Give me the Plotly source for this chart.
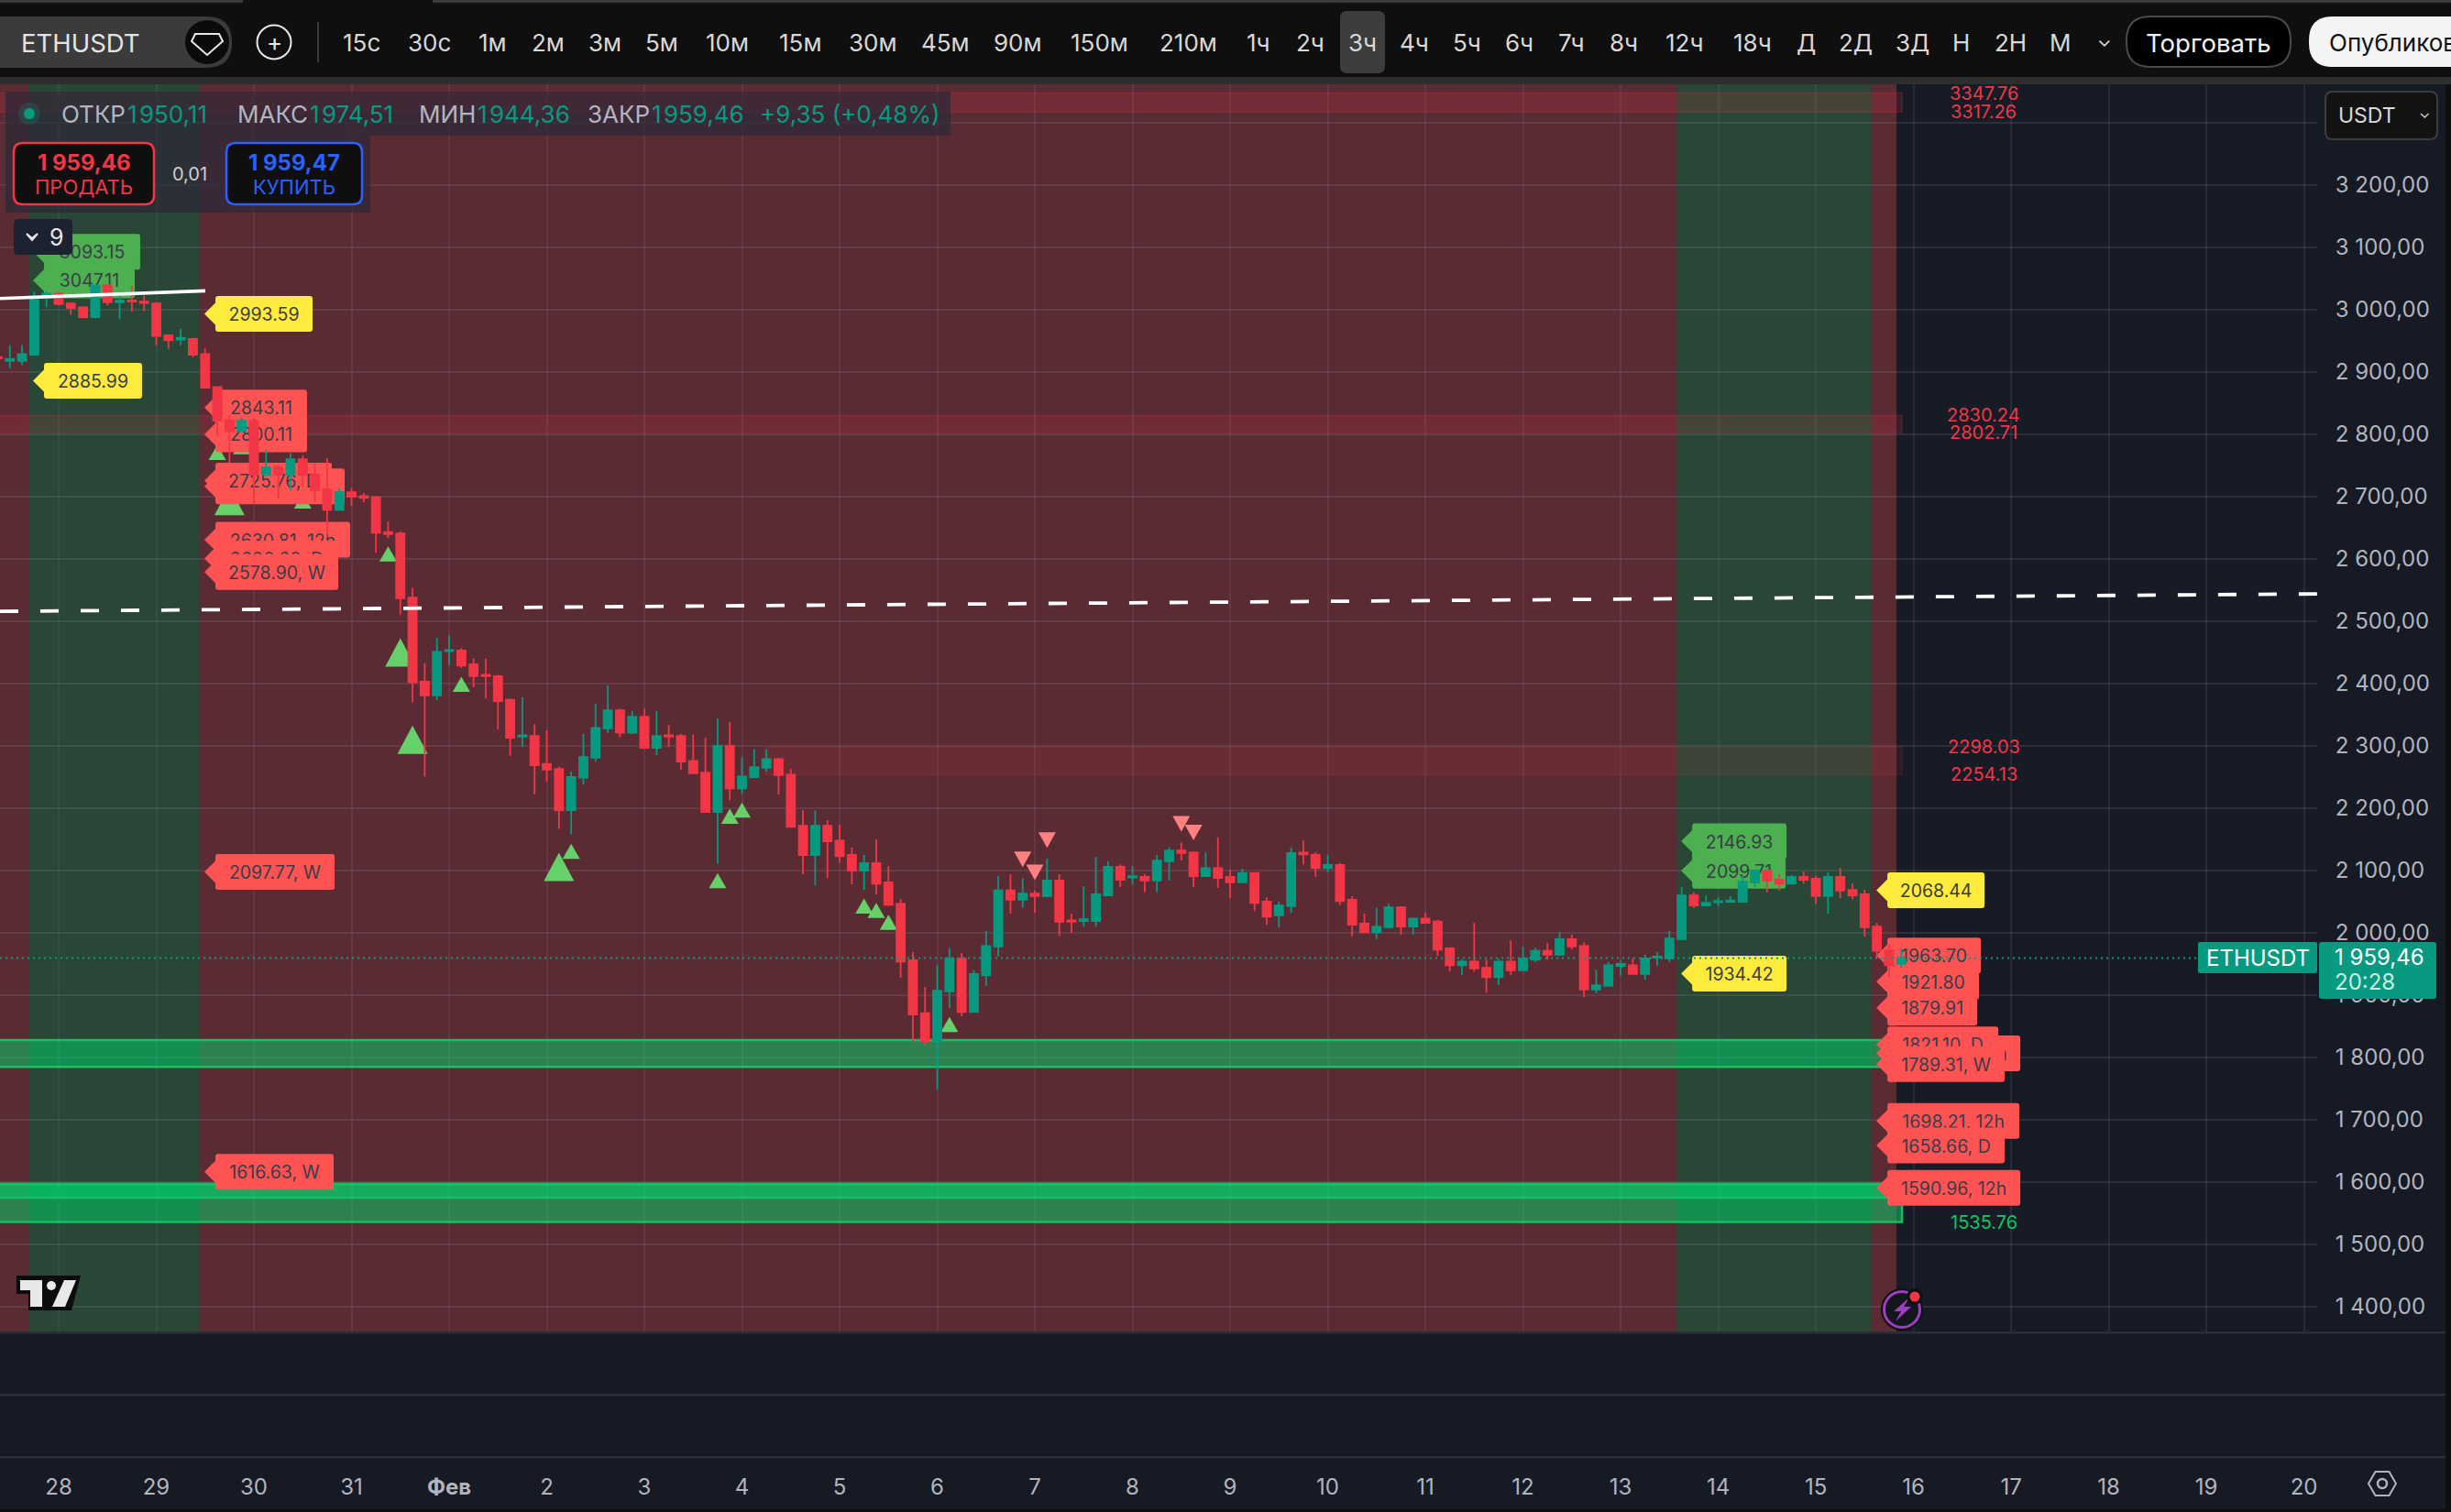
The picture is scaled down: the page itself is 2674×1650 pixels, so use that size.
import pandas as pd
import plotly.graph_objects as go

W, H = 2674, 1650

# ---------- candle data (3h bars, ETHUSDT) ----------
times = pd.date_range("2026-01-27 09:00", periods=157, freq="3h")
opens = [2924,2918,2918,2928,3019,3026,3010,3004,2988,3039,3012,3015,3013,3010,2959,2952,2953,2929,
2876,2823,2805,2822,2735,2747,2735,2760,2736,2712,2679,2707,2701,2699,2643,2641,2538,2403,2381,2452,2453,2431,2414,2412,2374,2315,2316,2271,2263,2197,2249,2281,2328,2357,2321,
2347,2297,2317,2316,2276,2257,2194,2300,2232,2250,2265,2279,2254,2172,2125,2172,2148,2125,2100,2112,2081,2047,1956,1871,1826,1906,1959,1873,1932,1978,2068,2053,2063,2059,2084,2020,2019,2019,2060,2106,2089,2090,2084,2115,2132,2129,2091,2104,2090,2081,2096,2050,2028,2043,2129,2125,2104,2109,2053,2015,
2001,2009,2041,2010,2023,2018,1975,1948,1954,1944,1929,1954,1940,1957,1971,1965,1990,1979,1909,1915,1947,1948,1934,1960,1959,1990,2060,2044,2049,2050,2050,2081,2100,2085,2079,2090,2087,2059,2090,2069,2062,2010,1972,1950.11]
highs = [2935,2943,2943,3029,3029,3029,3012,3004,3041,3041,3027,3038,3022,3012,2960,2969,2955,2938,
2877,2830,2827,2827,2775,2751,2770,2766,2753,2762,2714,2714,2706,2701,2660,2644,2554,2433,2473,2477,2457,2440,2440,2414,2376,2378,2335,2325,2267,2259,2319,2368,2397,2360,2356,
2360,2356,2334,2319,2318,2313,2344,2338,2282,2295,2294,2281,2263,2197,2196,2181,2173,2137,2125,2150,2107,2054,1969,1913,1948,1976,1968,1940,2003,2091,2094,2088,2068,2119,2094,2031,2075,2122,2115,2110,2107,2094,2125,2138,2145,2131,2129,2153,2101,2103,2096,2057,2050,2137,2148,2129,2125,2112,2059,2031,
2040,2047,2043,2023,2032,2021,1977,1957,2016,1957,1959,1988,1978,1976,1984,2001,1997,1985,1941,1953,1955,1959,1965,1969,2003,2073,2065,2060,2057,2059,2091,2102,2102,2094,2093,2098,2091,2097,2104,2079,2069,2016,1982,1974.51]
lows = [2915,2906,2911,2928,3004,3007,2992,2986,2986,3007,2985,2997,2998,2943,2937,2943,2924,2875,
2797,2754,2804,2688,2734,2697,2710,2714,2692,2636,2678,2685,2691,2610,2634,2511,2370,2251,2374,2429,2425,2394,2376,2327,2284,2298,2222,2243,2167,2158,2238,2275,2321,2314,2319,
2295,2285,2298,2262,2256,2194,2111,2213,2223,2250,2259,2222,2169,2094,2076,2088,2113,2078,2069,2062,2043,1928,1825,1819,1748,1879,1866,1872,1915,1962,2031,2040,2032,2057,1995,2000,2010,2010,2059,2073,2078,2065,2065,2084,2116,2073,2091,2072,2056,2081,2035,2013,2009,2032,2110,2090,2097,2045,1995,2001,
1990,2007,1997,1997,2016,1963,1938,1932,1938,1904,1916,1932,1940,1953,1957,1963,1973,1897,1903,1915,1931,1934,1925,1947,1953,1988,2040,2044,2043,2048,2048,2073,2065,2068,2079,2079,2046,2031,2056,2054,1994,1960,1929,1944.36]
closes = [2922,2921,2929,3021,3026,3009,3003,2988,3039,3012,3015,3013,3011,2958,2951,2955,2928,2875,
2822,2805,2822,2735,2747,2735,2760,2735,2710,2679,2707,2700,2698,2642,2640,2537,2402,2381,2451,2454,2429,2412,2412,2372,2313,2317,2269,2262,2197,2250,2282,2329,2357,2321,2347,
2297,2316,2315,2275,2256,2194,2300,2232,2251,2266,2279,2253,2170,2125,2172,2147,2123,2100,2112,2079,2045,1954,1869,1826,1907,1959,1873,1934,1979,2068,2053,2063,2059,2084,2018,2018,2022,2062,2106,2085,2091,2084,2116,2132,2128,2091,2104,2088,2081,2096,2048,2026,2044,2128,2126,2104,2109,2051,2013,2001,
2010,2041,2010,2023,2016,1973,1948,1954,1943,1929,1954,1940,1959,1971,1965,1990,1978,1909,1916,1948,1950,1934,1959,1962,1991,2060,2044,2048,2051,2052,2082,2100,2084,2079,2090,2085,2059,2090,2068,2060,2009,1971,1948,1959.46]

# ---------- signals ----------
up_times_idx = [18,20,19,25,32,33,34,38,46,47,59,60,61,71,72,73,78]
up_prices    = [2771,2780,2693,2693,2608,2450,2310,2399,2106,2131,2084,2187,2197,2043,2036,2017,1853]
up_big       = [0,0,1,0,0,1,1,0,1,0,0,0,0,0,0,0,0]
down_times_idx = [84,85,86,97,98]
down_prices    = [2118,2097,2149,2175,2161]

# ---------- price tag labels ----------
label_texts  = ["3093.15","3047.11","2885.99","2993.59","2843.11","2800.11","2716.40, 12h","2725.76, D",
                "2630.81, 12h","2600.60, D","2578.90, W","2097.77, W","1616.63, W",
                "2146.93","2099.71","1934.42",
                "2068.44","1963.70","1921.80","1879.91","1806.44, 12h","1821.10, D","1789.31, W",
                "1698.21, 12h","1658.66, D","1590.96, 12h"]
label_prices = [3093.15,3047.11,2885.99,2993.59,2843.11,2800.11,2716.40,2725.76,
                2630.81,2600.60,2578.90,2097.77,1616.63,
                2146.93,2099.71,1934.42,
                2068.44,1963.70,1921.80,1879.91,1806.44,1821.10,1789.31,
                1698.21,1658.66,1590.96]
label_times  = ["2026-01-27 17:41"]*3 + ["2026-01-29 11:50"]*10 + ["2026-02-13 14:53"]*3 + ["2026-02-15 14:53"]*10
label_kinds  = ["g","g","y","y","r","r","r","r","r","r","r","r","r","g","g","y","y","r","r","r","r","r","r","r","r","r"]
label_widths = [105,99,107,106,100,100,141,127,147,134,134,130,129,103,102,103,106,102,100,98,145,121,128,144,128,145]

zone_tops    = [3347.76,2830.24,2298.03]
zone_bottoms = [3317.26,2802.71,2254.13]
zone_starts  = ["2026-01-27 00:00","2026-01-27 00:00","2026-02-04 05:44"]
zone_alphas  = [0.15,0.14,0.09]
side_texts   = ["3347.76","3317.26","2830.24","2802.71","2298.03","2254.13"]
side_prices  = [3347.76,3317.26,2830.24,2802.71,2298.03,2254.13]

green_tops    = [1828,1597,1597]
green_bottoms = [1785,1536,1575]

day_ticks  = list(pd.date_range("2026-01-28", "2026-02-20", freq="D"))
day_labels = ["28","29","30","31","<b>Фев</b>"] + [str(d) for d in range(2,21)]
price_ticks  = list(range(1400,3400,100))
price_labels = [f"{p//1000} {p%1000:03d},00" if p < 3300 else "" for p in price_ticks]

last_price = 1959.46
trend_times  = ["2026-01-27 09:34","2026-01-29 12:03"]
trend_prices = [3018,3030.4]
dash_times   = ["2026-01-27 09:34","2026-02-20 03:15"]
dash_prices  = [2516,2544]

X0, X1 = "2026-01-27 09:34:42", "2026-02-20 03:15:00"
Y0, Y1 = 1358.8, 3361.8
RED, GREEN = "#f23645", "#089981"
FONT = "Inter"

shapes, ann = [], []

def px(x): return x / W
def py(y): return 1 - y / H

def rpath(x0, y0, x1, y1, r, fx=lambda v: v, fy=lambda v: v):
    a, b, c, d = fx(x0), fy(y0), fx(x1), fy(y1)
    return (f"M{fx(x0+r)},{b} L{fx(x1-r)},{b} Q{c},{b} {c},{fy(y0+r)} L{c},{fy(y1-r)} Q{c},{d} {fx(x1-r)},{d} "
            f"L{fx(x0+r)},{d} Q{a},{d} {a},{fy(y1-r)} L{a},{fy(y0+r)} Q{a},{b} {fx(x0+r)},{b} Z")

def box(x0, y0, x1, y1, fill, line=None, lw=0, r=0):
    shapes.append(dict(type="path", xref="paper", yref="paper", layer="above",
                       path=rpath(x0, y0, x1, y1, r, px, py) if r else
                       f"M{px(x0)},{py(y0)} L{px(x1)},{py(y0)} L{px(x1)},{py(y1)} L{px(x0)},{py(y1)} Z",
                       fillcolor=fill, line=dict(color=line or "rgba(0,0,0,0)", width=lw)))

def poly(pts, fill, line=None, lw=0):
    p = "M" + " L".join(f"{px(a)},{py(b)}" for a, b in pts) + " Z"
    shapes.append(dict(type="path", xref="paper", yref="paper", layer="above", path=p,
                       fillcolor=fill, line=dict(color=line or "rgba(0,0,0,0)", width=lw)))

def circ(cx, cy, r, fill="rgba(0,0,0,0)", line=None, lw=0):
    shapes.append(dict(type="circle", xref="paper", yref="paper", layer="above",
                       x0=px(cx-r), x1=px(cx+r), y0=py(cy+r), y1=py(cy-r),
                       fillcolor=fill, line=dict(color=line or "rgba(0,0,0,0)", width=lw)))

def txt(x, y, s, size, color, anchor="center", bold=False):
    ann.append(dict(xref="paper", yref="paper", x=px(x), y=py(y), text=f"<b>{s}</b>" if bold else s,
                    showarrow=False, xanchor=anchor, yanchor="middle",
                    font=dict(family=FONT, size=size, color=color), borderpad=0, borderwidth=0))

# ---------- chart background zones ----------
for a, b, c in [("2026-01-27 00:00", "2026-02-15 19:49", "#5b2b34"),
                ("2026-01-27 16:34", "2026-01-29 10:29", "#294636"),
                ("2026-02-13 13:45", "2026-02-15 13:45", "#294636")]:
    shapes.append(dict(type="rect", xref="x", yref="y", layer="below", x0=a, x1=b, y0=Y0, y1=Y1,
                       fillcolor=c, line=dict(width=0)))

# red supply zones
BAND_END = "2026-02-15 21:11"
for t, b, s, al in zip(zone_tops, zone_bottoms, zone_starts, zone_alphas):
    shapes.append(dict(type="rect", xref="x", yref="y", layer="between", x0=s, x1=BAND_END, y0=b, y1=t,
                       fillcolor=f"rgba(242,54,69,{al})", line=dict(color=f"rgba(242,54,69,{al+0.06})", width=1.5)))
# green demand zones
for t, b in zip(green_tops, green_bottoms):
    shapes.append(dict(type="rect", xref="x", yref="y", layer="between", x0="2026-01-27 00:00", x1=BAND_END, y0=b, y1=t,
                       fillcolor="rgba(0,215,110,0.5)", line=dict(color="#16c060", width=2.5)))

# triangles
def tri(t, p, w, h, up, col):
    s = 1 if up else -1
    path = f"M{-w/2},{-s*h/2} L{w/2},{-s*h/2} L0,{s*h/2} Z"
    shapes.append(dict(type="path", xref="x", yref="y", layer="between", xsizemode="pixel", ysizemode="pixel",
                       xanchor=t, yanchor=p, path=path, fillcolor=col, line=dict(width=0)))

for i, p, big in zip(up_times_idx, up_prices, up_big):
    tri(times[i], p, 33 if big else 19, 31 if big else 16.5, True, "#66d06a")
for i, p in zip(down_times_idx, down_prices):
    tri(times[i], p, 19, 17, False, "#ff8080")

# price tags
LAB_COL = {"r": "#ff5252", "g": "#4caf50", "y": "#ffeb3b"}
for t, p, s, k, w in zip(label_times, label_prices, label_texts, label_kinds, label_widths):
    col = LAB_COL[k]
    shapes.append(dict(type="path", xref="x", yref="y", layer="between", xsizemode="pixel", ysizemode="pixel",
                       xanchor=t, yanchor=p, path="M0,0 L14,14 L14,-14 Z", fillcolor=col, line=dict(width=0)))
    shapes.append(dict(type="path", xref="x", yref="y", layer="between", xsizemode="pixel", ysizemode="pixel",
                       xanchor=t, yanchor=p, path=rpath(12, -19.5, 12+w, 19.5, 3),
                       fillcolor=col, line=dict(width=0),
                       label=dict(text=s, textposition="middle center",
                                  font=dict(family=FONT, size=19.5, color="#3a3d47"))))

# side numbers for zones
SIDE_T = "2026-02-16 17:14"
for s, p in zip(side_texts, side_prices):
    ann.append(dict(xref="x", yref="y", x=SIDE_T, y=p, text=s, showarrow=False,
                    font=dict(family=FONT, size=20, color=RED)))
ann.append(dict(xref="x", yref="y", x=SIDE_T, y=1535.76, text="1535.76", showarrow=False,
                font=dict(family=FONT, size=20, color="#0ac864")))

# ---------- chrome: top bar ----------
box(0, 0, W, 84, "#0f0f0f")
box(0, 84, W, 92, "#2e2e2e")
box(0, 0, 265, 3, "#3a3a3a"); box(472, 0, W, 3, "#3a3a3a")
box(-30, 18, 253, 74, "#3b3b3b", r=28)
txt(88, 46.5, "ETHUSDT", 27.5, "#e4e4e4")
circ(226, 46, 24, "#0b0b0b")
poly([(213,37),(239,37),(243,45),(226,60),(209,45)], "rgba(0,0,0,0)", "#e8e8e8", 2)
circ(299, 46, 18.5, "rgba(0,0,0,0)", "#e8e8e8", 2)
txt(299, 46, "+", 26, "#e8e8e8")
box(346, 24, 348, 68, "#3a3a3a")
box(1462, 12, 1511, 80, "#3d3d3d", r=8)
tf_x = [394,468,537,598,660,722,793,873,952,1031,1110,1199,1296,1373,1429,1486,1543,1600,1657,1714,1771,1838,1912,1970,2024,2086,2139,2193,2248]
tf_t = ["15с","30с","1м","2м","3м","5м","10м","15м","30м","45м","90м","150м","210м","1ч","2ч","3ч","4ч","5ч","6ч","7ч","8ч","12ч","18ч","Д","2Д","3Д","Н","2Н","М"]
for a, b in zip(tf_x, tf_t):
    txt(a, 47, b, 26, "#d8d8d8")
txt(2296, 44, "⌄", 20, "#d8d8d8")
box(2320, 18, 2499, 73, "#000000", "#4a4a4a", 2, r=26)
txt(2409, 46.5, "Торговать", 27.5, "#f2f2f2")
box(2519, 18, 2720, 73, "#f4f4f4", r=26)
txt(2541, 46.5, "Опубликовать", 26, "#111111", anchor="left")

# ---------- chrome: legend ----------
box(6, 100, 1037, 148, "rgba(45,40,55,0.72)")
box(6, 148, 404, 232, "rgba(45,40,55,0.72)")
circ(32, 124, 12, "rgba(8,153,129,0.22)")
circ(32, 124, 6, GREEN)
legend_x = [67,139,259,338,457,521,641,711,829]
legend_t = ["ОТКР","1\u200a950,11","МАКС","1\u200a974,51","МИН","1\u200a944,36","ЗАКР","1\u200a959,46","+9,35 (+0,48%)"]
for k, (a, b) in enumerate(zip(legend_x, legend_t)):
    txt(a, 124, b, 26, GREEN if (k % 2 or k == 8) else "#b2b5be", anchor="left")
box(15, 156, 168, 223, "#0f0f0f", RED, 2.5, r=10)
txt(92, 177, "1 959,46", 24, RED, bold=True)
txt(92, 204, "ПРОДАТЬ", 22, RED)
txt(207, 190, "0,01", 20, "#d0d0d0")
box(247, 156, 395, 223, "#0f0f0f", "#2962ff", 2.5, r=10)
txt(321, 177, "1 959,47", 24, "#2962ff", bold=True)
txt(321, 204, "КУПИТЬ", 22, "#2962ff")
box(15, 239, 79, 278, "#1c2230", r=5)
poly([(29,255),(35,262),(41,255),(35,260)], "#e8e8e8", "#e8e8e8", 2)
txt(62, 259, "9", 25, "#e8e8e8")

box(2537, 100, 2659, 152, "#131313", "#3c3c3c", 2, r=8)
txt(2582, 126, "USDT", 23, "#d8d8d8")
txt(2645, 123, "⌄", 16, "#d8d8d8")

# ---------- chrome: logo, icons ----------
poly([(18,1392),(88,1392),(78,1430),(31,1430),(31,1412),(18,1412)], "#0c0c0c")
poly([(22,1397),(46,1397),(46,1426),(33,1426),(33,1408),(22,1408)], "#e8e8e8")
circ(56, 1403, 5, "#e8e8e8")
poly([(70,1397),(83,1397),(71,1426),(57,1426)], "#e8e8e8")

circ(2075, 1429, 23, "#101010")
circ(2075, 1429, 19.5, "#14161e", "#9c3fc0", 3)
poly([(2083,1416),(2066,1431),(2074,1431),(2068,1442),(2085,1426),(2077,1426)], "#9c3fc0")
circ(2089, 1415, 9, "#101010")
circ(2089, 1415, 5.5, RED)

# price tag on axis
box(2398, 1028, 2528, 1062, GREEN, r=2)
txt(2463, 1045, "ETHUSDT", 24, "#ffffff")
box(2530, 1028, 2658, 1090, GREEN, r=3)
txt(2547, 1044, "1 959,46", 24, "#ffffff", anchor="left")
txt(2547, 1071, "20:28", 24, "#cfe9e3", anchor="left")

# bottom panes (separators only: the page colour is the pane colour)
box(0, 1453, W, 1455.5, "#2a2e39")
box(0, 1521, W, 1523.5, "#2a2e39")
box(0, 1589, W, 1591.5, "#2a2e39")
box(0, 1647, W, 1650, "#0f0f0f")
box(2668, 92, W, 1650, "#0f0f0f")
poly([(2584,1619),(2591.5,1606),(2606.5,1606),(2614,1619),(2606.5,1632),(2591.5,1632)], "rgba(0,0,0,0)", "#b2b5be", 2)
circ(2599, 1619, 5, "rgba(0,0,0,0)", "#b2b5be", 2.5)

# ---------- traces ----------
fig = go.Figure()
fig.add_trace(go.Candlestick(x=times, open=opens, high=highs, low=lows, close=closes, whiskerwidth=0,
    increasing=dict(line=dict(color=GREEN, width=1.8), fillcolor=GREEN),
    decreasing=dict(line=dict(color=RED, width=1.8), fillcolor=RED),
    hoverinfo="skip", showlegend=False))
fig.add_trace(go.Scatter(x=trend_times, y=trend_prices, mode="lines", line=dict(color="#ffffff", width=3.6),
                         hoverinfo="skip", showlegend=False))
fig.add_trace(go.Scatter(x=dash_times, y=dash_prices, mode="lines",
                         line=dict(color="#ffffff", width=3.8, dash="20px,24px"), hoverinfo="skip", showlegend=False))
fig.add_trace(go.Scatter(x=[X0, "2026-02-18 21:58"], y=[last_price, last_price], mode="lines",
                         line=dict(color=GREEN, width=2, dash="2px,4px"), hoverinfo="skip", showlegend=False))

fig.update_layout(
    width=W, height=H, margin=dict(l=0, r=0, t=0, b=0),
    paper_bgcolor="#161a25", plot_bgcolor="#171b26",
    font=dict(family=FONT), showlegend=False, boxgap=0.32, boxgroupgap=0,
    xaxis=dict(type="date", domain=[0, 2528/W], range=[X0, X1], rangeslider=dict(visible=False),
               anchor="free", position=(H-1590)/H, side="bottom",
               tickmode="array", tickvals=day_ticks, ticktext=day_labels,
               tickfont=dict(family=FONT, size=24, color="#b2b5be"),
               ticks="outside", ticklen=11, tickcolor="rgba(0,0,0,0)",
               showgrid=True, gridcolor="rgba(150,150,175,0.13)", gridwidth=1.6,
               showline=False, zeroline=False),
    yaxis=dict(domain=[1-1454/H, 1-92/H], range=[Y0, Y1], side="right", anchor="x",
               tickmode="array", tickvals=price_ticks, ticktext=price_labels,
               tickfont=dict(family=FONT, size=24, color="#b2b5be"),
               ticks="outside", ticklen=14, tickcolor="rgba(0,0,0,0)",
               showgrid=True, gridcolor="rgba(150,150,175,0.16)", gridwidth=2.2,
               showline=False, zeroline=False),
    shapes=shapes, annotations=ann,
)
fig.write_html("out.html", config=dict(displayModeBar=False),
               post_script="document.body.style.margin='0';document.documentElement.style.overflow='hidden';")
